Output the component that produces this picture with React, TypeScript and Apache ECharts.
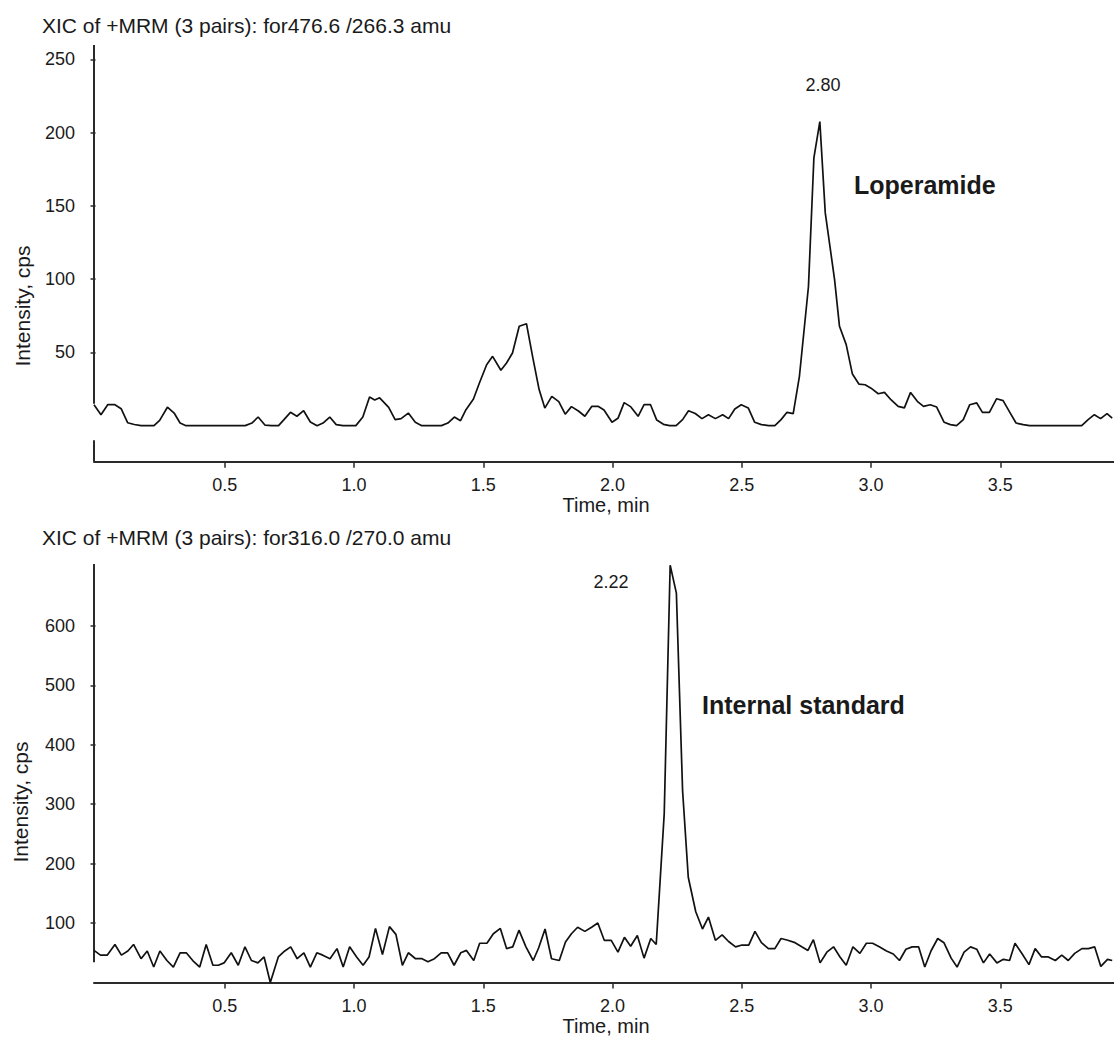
import { useEffect, useRef } from "react";
import * as echarts from "echarts";

// ---------- data ----------
const titles = [
  "XIC of +MRM (3 pairs): for476.6 /266.3 amu",
  "XIC of +MRM (3 pairs): for316.0 /270.0 amu",
];
const peakLabels = ["2.80", "2.22"];
const compoundNames = ["Loperamide", "Internal standard"];
const yAxisName = "Intensity, cps";
const xAxisName = "Time, min";

const timeTicks = [0.5, 1.0, 1.5, 2.0, 2.5, 3.0, 3.5];
const topYTicks = [50, 100, 150, 200, 250];
const bottomYTicks = [100, 200, 300, 400, 500, 600];

const topTime = [
  -0.006, 0.021, 0.047, 0.075, 0.099, 0.124, 0.15, 0.176, 0.226, 0.248, 0.278, 0.304, 0.327, 0.35,
  0.579, 0.605, 0.629, 0.656, 0.68, 0.708, 0.729, 0.754, 0.779, 0.805, 0.831, 0.857, 0.88, 0.906,
  0.931, 0.957, 1.007, 1.034, 1.06, 1.08, 1.099, 1.134, 1.159, 1.182, 1.21, 1.237, 1.262, 1.338,
  1.363, 1.388, 1.412, 1.433, 1.462, 1.485, 1.513, 1.536, 1.568, 1.59, 1.613, 1.639, 1.667, 1.691,
  1.716, 1.738, 1.765, 1.792, 1.817, 1.841, 1.868, 1.893, 1.92, 1.944, 1.967, 1.998, 2.021, 2.045,
  2.071, 2.099, 2.122, 2.147, 2.171, 2.197, 2.221, 2.246, 2.271, 2.294, 2.32, 2.346, 2.371, 2.398,
  2.426, 2.449, 2.473, 2.498, 2.525, 2.55, 2.576, 2.604, 2.628, 2.652, 2.675, 2.699, 2.723, 2.758,
  2.779, 2.802, 2.823, 2.859, 2.878, 2.904, 2.928, 2.953, 2.977, 3.0, 3.028, 3.052, 3.077, 3.105,
  3.129, 3.153, 3.179, 3.203, 3.229, 3.254, 3.283, 3.307, 3.331, 3.357, 3.382, 3.409, 3.431, 3.458,
  3.486, 3.511, 3.537, 3.561, 3.589, 3.613, 3.815, 3.84, 3.864, 3.888, 3.913, 3.933,
];
const topIntensity = [
  14.3, 7.5, 14.3, 14.3, 11.6, 2, 0.8, 0, 0, 3.6, 12.6, 8.6, 1.8, 0,
  0, 1.8, 5.9, 0.3, 0, 0, 4.1, 9.1, 6.4, 10.2, 2.5, 0, 1.8, 5.9,
  0.7, 0, 0, 5.9, 19.6, 17.5, 19, 12.5, 4.1, 4.8, 8.6, 2.3, 0, 0,
  1.8, 5.9, 3.4, 10.9, 18.2, 29.1, 41.6, 47.3, 37.8, 42.8, 49.6, 67.8, 69.6, 47,
  24.6, 12, 20, 16.4, 7.8, 13, 10, 6.4, 13.2, 13.2, 10.7, 2.3, 5, 15.7,
  12.8, 6.4, 14.3, 14.3, 3.8, 0.9, 0, 0, 4.1, 10.2, 8.3, 4.8, 7.5, 4.8,
  7.5, 4.8, 11.4, 14.3, 12.1, 2.3, 0.7, 0, 0, 4.1, 9.1, 8.2, 33.7, 95,
  182.8, 207.5, 145.2, 99.7, 67.8, 55.3, 35.2, 28.4, 27.9, 25.6, 21.8, 22.7, 17.7, 13.2,
  12.1, 22.7, 16.6, 13.2, 14.3, 12.7, 2.3, 0.7, 0, 4.1, 14.3, 15.5, 9.1, 9.1,
  18.4, 17.1, 9.1, 1.8, 0.7, 0, 0, 4.1, 7.5, 4.8, 8.2, 5.2,
];

const bottomTime = [
  -0.006, 0.019, 0.045, 0.075, 0.1, 0.125, 0.147, 0.176, 0.2, 0.225, 0.249, 0.276, 0.301, 0.327,
  0.351, 0.376, 0.403, 0.428, 0.454, 0.475, 0.497, 0.525, 0.552, 0.578, 0.603, 0.628, 0.652, 0.676,
  0.707, 0.732, 0.755, 0.78, 0.806, 0.831, 0.856, 0.879, 0.907, 0.934, 0.958, 0.983, 1.01, 1.035,
  1.058, 1.083, 1.11, 1.137, 1.162, 1.187, 1.21, 1.238, 1.263, 1.286, 1.311, 1.337, 1.362, 1.387,
  1.413, 1.435, 1.463, 1.486, 1.514, 1.539, 1.566, 1.59, 1.614, 1.638, 1.665, 1.693, 1.714, 1.739,
  1.764, 1.794, 1.818, 1.841, 1.865, 1.893, 1.919, 1.943, 1.968, 1.995, 2.021, 2.046, 2.07, 2.096,
  2.122, 2.148, 2.169, 2.2, 2.223, 2.247, 2.271, 2.293, 2.322, 2.348, 2.371, 2.398, 2.424, 2.449,
  2.476, 2.501, 2.527, 2.551, 2.576, 2.603, 2.628, 2.652, 2.678, 2.706, 2.732, 2.756, 2.777, 2.803,
  2.829, 2.855, 2.88, 2.904, 2.93, 2.957, 2.982, 3.006, 3.032, 3.06, 3.086, 3.11, 3.135, 3.159,
  3.184, 3.208, 3.232, 3.258, 3.282, 3.31, 3.333, 3.36, 3.385, 3.409, 3.435, 3.459, 3.487, 3.512,
  3.536, 3.557, 3.585, 3.611, 3.635, 3.66, 3.686, 3.713, 3.738, 3.763, 3.788, 3.816, 3.841, 3.865,
  3.889, 3.915, 3.933,
];
const bottomIntensity = [
  54, 46, 46, 64, 46, 53, 64, 40, 53, 26, 53, 37, 26, 50,
  50, 37, 26, 64, 29, 29, 33, 50, 29, 60, 37, 33, 43, 0,
  43, 53, 60, 40, 50, 26, 50, 46, 40, 57, 26, 60, 43, 29,
  43, 91, 47, 94, 81, 29, 50, 40, 40, 35, 40, 50, 50, 29,
  50, 54, 37, 66, 66, 82, 91, 57, 60, 88, 60, 37, 58, 90,
  40, 37, 68, 82, 93, 86, 93, 100, 71, 71, 51, 76, 61, 79,
  41, 74, 64, 284, 702, 655, 323, 177, 119, 90, 110, 71, 80, 69,
  60, 63, 63, 86, 67, 57, 57, 74, 71, 67, 60, 54, 72, 33,
  51, 60, 43, 29, 60, 49, 66, 66, 60, 53, 48, 37, 56, 60,
  60, 26, 53, 74, 67, 41, 26, 51, 60, 56, 33, 48, 33, 39,
  37, 66, 48, 30, 57, 43, 43, 37, 46, 37, 49, 57, 57, 60,
  27, 39, 37,
];

// ---------- styling / layout ----------
const FONT = "'Liberation Sans', Arial, Helvetica, sans-serif";
const INK = "#1a1a1a";
const AXIS = "#2a2a2a";
const X_MIN = -0.006;
const X_MAX = 3.94;
const TOP_Y = [-24.6, 259.8];
const BOT_Y = [0, 704];

function xAxisCfg(gridIndex: number) {
  return {
    type: "value",
    gridIndex,
    min: X_MIN,
    max: X_MAX,
    axisLine: { show: true, onZero: false, lineStyle: { color: AXIS, width: 2 } },
    axisTick: {
      show: true,
      customValues: timeTicks,
      length: 6,
      lineStyle: { color: AXIS, width: 1.5 },
    },
    axisLabel: {
      customValues: timeTicks,
      formatter: (v: number) => v.toFixed(1),
      fontSize: 18,
      fontFamily: FONT,
      color: INK,
      margin: 14,
    },
    splitLine: { show: false },
  };
}

function yAxisCfg(gridIndex: number, range: number[], ticks: number[]) {
  return {
    type: "value",
    gridIndex,
    min: range[0],
    max: range[1],
    axisLine: { show: false },
    axisTick: {
      show: true,
      customValues: ticks,
      length: 5,
      lineStyle: { color: AXIS, width: 1.5 },
    },
    axisLabel: {
      customValues: ticks,
      fontSize: 18,
      fontFamily: FONT,
      color: INK,
      margin: 19,
    },
    splitLine: { show: false },
  };
}

function lineSeries(idx: number, times: number[], values: number[]) {
  return {
    type: "line",
    xAxisIndex: idx,
    yAxisIndex: idx,
    data: times.map((t, i) => [t, values[i]]),
    showSymbol: false,
    symbol: "none",
    lineStyle: { color: "#111", width: 1.7 },
    clip: false,
    silent: true,
  };
}

export default function App() {
  const ref = useRef<HTMLDivElement>(null);

  useEffect(() => {
    document.body.style.margin = "0";
    if (!ref.current) return;
    const chart = echarts.init(ref.current, null, { renderer: "svg" });
    chart.setOption({
      animation: false,
      backgroundColor: "#fff",
      grid: [
        { left: 94, right: 0, top: 45, height: 416.7, containLabel: false },
        { left: 94, right: 0, top: 564, height: 418.5, containLabel: false },
      ],
      xAxis: [xAxisCfg(0), xAxisCfg(1)],
      yAxis: [yAxisCfg(0, TOP_Y, topYTicks), yAxisCfg(1, BOT_Y, bottomYTicks)],
      series: [lineSeries(0, topTime, topIntensity), lineSeries(1, bottomTime, bottomIntensity)],
    });

    const px = (g: number, x: number, y: number) =>
      chart.convertToPixel({ gridIndex: g } as any, [x, y]) as number[];

    const seg = (a: number[], b: number[]) => ({
      type: "line",
      silent: true,
      shape: { x1: a[0], y1: a[1], x2: b[0], y2: b[1] },
      style: { stroke: AXIS, lineWidth: 2 },
    });

    const txt = (
      text: string,
      x: number,
      y: number,
      font: string,
      align: string,
      rotation = 0
    ) => ({
      type: "text",
      silent: true,
      x,
      y,
      rotation,
      style: {
        text,
        font,
        fill: INK,
        align,
        verticalAlign: "middle",
        textAlign: align,
        textVerticalAlign: "middle",
      },
    });

    const reg = `21px ${FONT}`;
    const bold = `bold 25px ${FONT}`;
    const small = `18px ${FONT}`;
    const name = `20px ${FONT}`;

    chart.setOption({
      graphic: [
        // broken y-axis lines
        seg(px(0, X_MIN, TOP_Y[1]), px(0, X_MIN, 15)),
        seg(px(0, X_MIN, -10), px(0, X_MIN, TOP_Y[0])),
        seg(px(1, X_MIN, BOT_Y[1]), px(1, X_MIN, 34)),
        // titles
        txt(titles[0], 42, 25, reg, "left"),
        txt(titles[1], 42, 537, reg, "left"),
        // axis names
        txt(yAxisName, 22, 306, reg, "center", Math.PI / 2),
        txt(yAxisName, 20, 802, reg, "center", Math.PI / 2),
        txt(xAxisName, 606, 505, name, "center"),
        txt(xAxisName, 606, 1026, name, "center"),
        // peak annotations
        txt(peakLabels[0], 823, 85, small, "center"),
        txt(compoundNames[0], 854, 185, bold, "left"),
        txt(peakLabels[1], 611, 582, small, "center"),
        txt(compoundNames[1], 702, 705, bold, "left"),
      ],
    });

    return () => chart.dispose();
  }, []);

  return <div ref={ref} style={{ width: 1114, height: 1038 }} />;
}
